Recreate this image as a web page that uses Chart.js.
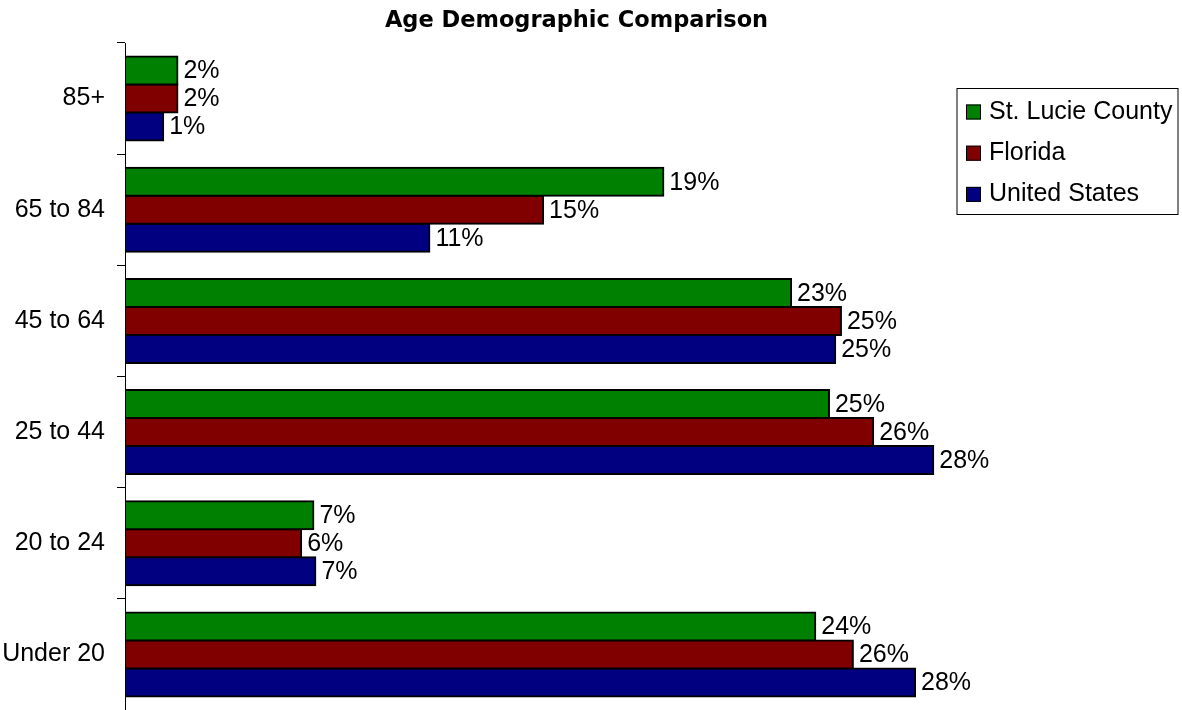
<!DOCTYPE html>
<html><head><meta charset="utf-8">
<script src="https://cdn.jsdelivr.net/npm/chart.js@4.4.1/dist/chart.umd.min.js"></script>
<style>html,body{margin:0;padding:0;background:#fff;overflow:hidden}#wrap{width:1182px;height:710px;position:relative}</style>
</head><body><div id="wrap"><canvas id="c"></canvas></div>
<script>
const chartTitle = 'Age Demographic Comparison';
const categories = ['85+', '65 to 84', '45 to 64', '25 to 44', '20 to 24', 'Under 20'];
const seriesNames = ['St. Lucie County', 'Florida', 'United States'];
const stLucie = [1.84, 18.89, 23.37, 24.70, 6.61, 24.22];
const florida = [1.84, 14.67, 25.12, 26.25, 6.18, 25.54];
const unitedStates = [1.34, 10.68, 24.92, 28.36, 6.68, 27.72];
const seriesColors = ['#008000', '#800000', '#000080'];

const LABEL_FONT = "25px 'Liberation Sans', Arial, sans-serif";

const valueLabels = {
  id: 'valueLabels',
  afterDatasetsDraw(chart) {
    const ctx = chart.ctx;
    ctx.save();
    ctx.font = LABEL_FONT;
    ctx.fillStyle = '#000';
    ctx.textBaseline = 'middle';
    ctx.textAlign = 'left';
    chart.data.datasets.forEach((ds, i) => {
      chart.getDatasetMeta(i).data.forEach((bar, j) => {
        ctx.fillText(Math.round(ds.data[j]) + '%', bar.x + 6, bar.y + 1);
      });
    });
    ctx.restore();
  }
};

const boxLegend = {
  id: 'boxLegend',
  afterDraw(chart) {
    const ctx = chart.ctx;
    ctx.save();
    ctx.strokeStyle = '#000';
    ctx.lineWidth = 1;
    ctx.strokeRect(957, 88.5, 221, 126);
    ctx.font = LABEL_FONT;
    ctx.textBaseline = 'middle';
    ctx.textAlign = 'left';
    chart.data.datasets.forEach((ds, i) => {
      const cy = 112 + i * 41.2;
      ctx.fillStyle = ds.backgroundColor;
      ctx.fillRect(966, cy - 7.5, 15, 15);
      ctx.strokeRect(966.5, cy - 7, 14, 14);
      ctx.fillStyle = '#000';
      ctx.fillText(ds.label, 989, cy);
    });
    ctx.restore();
  }
};

const seriesData = [stLucie, florida, unitedStates];

new Chart(document.getElementById('c'), {
  type: 'bar',
  data: {
    labels: categories,
    datasets: seriesNames.map((name, i) => ({
      label: name,
      data: seriesData[i],
      backgroundColor: seriesColors[i],
      borderColor: '#000',
      borderWidth: 2,
      borderSkipped: false,
      inflateAmount: 1,
      categoryPercentage: 0.755,
      barPercentage: 1
    }))
  },
  options: {
    indexAxis: 'y',
    responsive: true,
    maintainAspectRatio: false,
    animation: false,
    layout: { padding: { left: 2, right: 31, top: 0, bottom: 0 } },
    scales: {
      x: { display: false, min: 0, max: 36 },
      y: {
        afterFit(scale) {
          scale.width = 123;
          scale.paddingTop = 0;
          scale.paddingBottom = 0;
        },
        grid: { drawOnChartArea: false, drawTicks: true, tickLength: 8, color: '#000', offset: true },
        border: { display: true, color: '#000', width: 1 },
        ticks: { padding: 12, color: '#000', font: { family: "'Liberation Sans', Arial, sans-serif", size: 25 } }
      }
    },
    plugins: {
      legend: { display: false },
      tooltip: { enabled: false },
      title: {
        display: true,
        text: chartTitle,
        color: '#000',
        font: { family: "'DejaVu Sans', sans-serif", size: 22.5, weight: 'bold' },
        padding: { top: 8, bottom: 8 }
      }
    }
  },
  plugins: [valueLabels, boxLegend]
});
</script>
</body></html>
